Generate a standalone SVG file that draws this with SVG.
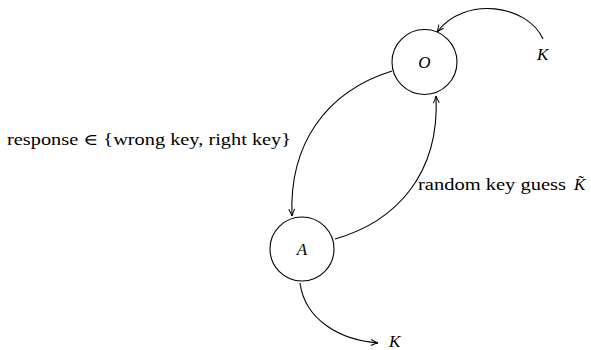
<svg xmlns="http://www.w3.org/2000/svg" width="591" height="350" viewBox="0 0 591 350">
<style>
.node{fill:none;stroke:#000;stroke-width:1.1}
.edge{fill:none;stroke:#000;stroke-width:1.1;marker-end:url(#arr)}
.t{font-family:'Liberation Serif','DejaVu Serif',serif;font-size:16px;fill:#000}
.m{font-family:'Liberation Serif','DejaVu Serif',serif;font-size:17px;font-style:italic;fill:#000}
</style>
<defs>
<marker id="arr" viewBox="-8 -4 9 8" refX="0" refY="0" markerWidth="9" markerHeight="8" markerUnits="userSpaceOnUse" orient="auto" overflow="visible">
<path d="M -7 -3 Q -2.5 -0.6 0 0 Q -2.5 0.6 -7 3" fill="none" stroke="#000" stroke-width="1"/>
</marker>
</defs>
<rect width="591" height="350" fill="#fff"/>
<g id="connectors">
<path class="edge" d="M 543 39 C 528 5 465 -5 437 32"/>
<path class="edge" d="M 392 71 C 325 92 289 145 292 216"/>
<path class="edge" d="M 335 239 C 395 222 440 175 436 96"/>
<path class="edge" d="M 300 283 C 305 320 340 340 378 343"/>
</g>
<g id="node-O">
<circle class="node" cx="424.5" cy="62" r="32.5"/>
<text class="m" x="424.5" y="68" text-anchor="middle">O</text>
</g>
<g id="node-A">
<circle class="node" cx="302" cy="249" r="32"/>
<text class="m" x="302" y="255" text-anchor="middle">A</text>
</g>
<g id="labels">
<text class="m" x="537" y="60">K</text>
<text class="m" x="389" y="347">K</text>
<text class="t" x="7" y="145" textLength="284" lengthAdjust="spacingAndGlyphs">response ∈ {wrong key, right key}</text>
<text class="t" x="418" y="190" textLength="148" lengthAdjust="spacingAndGlyphs">random key guess</text>
<text class="m" x="574" y="190">K̃</text>
</g>
</svg>
